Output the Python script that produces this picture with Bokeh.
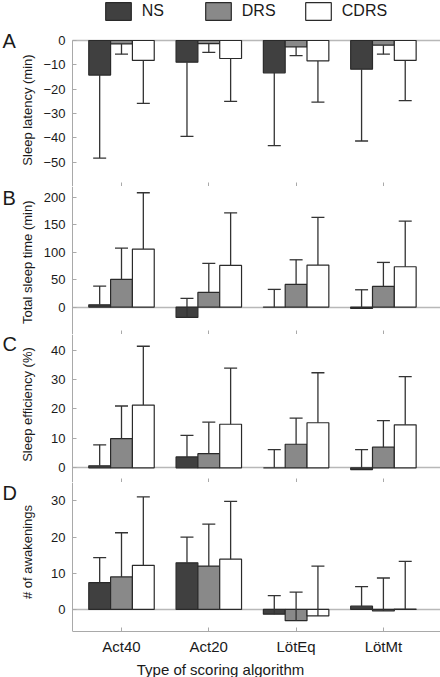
from bokeh.plotting import figure
from bokeh.models import (Range1d, FixedTicker, Whisker, TeeHead, ColumnDataSource,
                          Label, Legend, LegendItem, LinearAxis)
from bokeh.layouts import column
from bokeh.embed import file_html
from bokeh.resources import INLINE
import numpy as np

# ---------------- data ----------------
categories = ["Act40", "Act20", "LötEq", "LötMt"]
series = ["NS", "DRS", "CDRS"]

# A: Sleep latency (min)  (error bars drawn downward)
lat_ns = [-14.2, -8.9, -13.3, -11.8]
lat_drs = [-1.4, -1.3, -2.6, -1.9]
lat_cdrs = [-8.2, -7.4, -8.4, -8.2]
lat_ns_sd = [34.1, 30.5, 29.9, 29.5]
lat_drs_sd = [4.2, 3.6, 3.6, 3.7]
lat_cdrs_sd = [17.6, 17.6, 16.9, 16.5]

# B: Total sleep time (min)
tst_ns = [4.2, -18.8, -0.3, -2.4]
tst_drs = [50.5, 26.8, 41.4, 37.7]
tst_cdrs = [105.8, 76.0, 76.6, 73.6]
tst_ns_sd = [34.1, 34.6, 32.6, 34.0]
tst_drs_sd = [57.2, 52.9, 44.9, 43.8]
tst_cdrs_sd = [102.8, 96.0, 87.1, 83.4]

# C: Sleep efficiency (%)
se_ns = [0.7, 3.7, 0.0, -0.6]
se_drs = [9.9, 4.8, 8.0, 7.0]
se_cdrs = [21.3, 14.8, 15.3, 14.6]
se_ns_sd = [7.1, 7.3, 6.2, 6.8]
se_drs_sd = [11.1, 10.7, 8.9, 9.0]
se_cdrs_sd = [20.0, 19.1, 17.0, 16.4]

# D: # of awakenings
aw_ns = [7.4, 12.9, -1.3, 0.9]
aw_drs = [9.0, 12.0, -3.1, -0.4]
aw_cdrs = [12.2, 13.9, -1.8, 0.1]
aw_ns_sd = [6.9, 7.1, 5.1, 5.4]
aw_drs_sd = [12.2, 11.6, 7.9, 9.1]
aw_cdrs_sd = [18.9, 16.0, 13.8, 13.2]

lat_ticks = [0, -10, -20, -30, -40, -50]
tst_ticks = [0, 50, 100, 150, 200]
se_ticks = [0, 10, 20, 30, 40]
aw_ticks = [0, 10, 20, 30]

# ---------------- style ----------------
FONT = "Liberation Sans"
FILLS = ["#404040", "#898989", "#ffffff"]
EDGE = "#2a2a2a"
ERR = "#333333"
AXIS = "#a9a9a9"
ZERO = "#b8b8b8"
TEXT = "#1a1a1a"
OFFSETS = [-0.25, 0.0, 0.25]
BAR_W = 0.25
AXIS_X = 0.439                 # where the value axis sits
X_RANGE = (-0.386, 4.654)
cat_pos = np.arange(1, len(categories) + 1)


def make_panel(means, sds, ylabel, yrange, ybounds, ticks, frame_h, down, letter,
               letter_y, title_y, show_x=False):
    p = figure(frame_width=440, frame_height=frame_h,
               x_range=Range1d(*X_RANGE), y_range=Range1d(*yrange),
               output_backend="svg", toolbar_location=None,
               min_border_left=0, min_border_right=0,
               min_border_top=0, min_border_bottom=0)
    p.outline_line_color = None
    p.grid.visible = False
    p.background_fill_color = "white"
    p.border_fill_color = "white"

    # zero reference line (an unlabeled axis fixed at y = 0)
    zero = LinearAxis(fixed_location=0, bounds=(AXIS_X, X_RANGE[1]),
                      ticker=FixedTicker(ticks=[]), axis_line_color=ZERO,
                      axis_line_width=1.6, major_tick_line_color=None,
                      minor_tick_line_color=None, level="underlay")
    p.add_layout(zero, "below")

    renderers = []
    for i in range(3):
        vals = np.array(means[i], dtype=float)
        sd = np.array(sds[i], dtype=float)
        if down:
            lo, hi = vals - sd, vals
        else:
            lo, hi = vals, vals + sd
        src = ColumnDataSource(dict(x=cat_pos + OFFSETS[i], top=vals, lo=lo, hi=hi))
        r = p.vbar(x="x", top="top", bottom=0, width=BAR_W, source=src,
                   fill_color=FILLS[i], line_color=EDGE, line_width=1.2)
        renderers.append(r)
        head = TeeHead(size=13, line_color=ERR, line_width=1.3)
        wk = Whisker(source=src, base="x", lower="lo", upper="hi", dimension="height",
                     line_color=ERR, line_width=1.3, level="annotation",
                     lower_head=head if down else None,
                     upper_head=None if down else head)
        p.add_layout(wk)

    # y axis (value axis, drawn at AXIS_X)
    ya = p.yaxis[0]
    ya.fixed_location = AXIS_X
    ya.bounds = ybounds
    ya.ticker = FixedTicker(ticks=ticks)
    ya.axis_line_color = AXIS
    ya.major_tick_line_color = AXIS
    ya.minor_tick_line_color = None
    ya.major_tick_in = 4
    ya.major_tick_out = 0
    ya.major_label_standoff = 7
    ya.major_label_text_font = FONT
    ya.major_label_text_font_size = "13px"
    ya.major_label_text_color = TEXT

    # y title as rotated text
    p.add_layout(Label(x=26.5, y=title_y, x_units="screen", y_units="screen",
                       text=ylabel, angle=np.pi / 2, text_font=FONT,
                       text_font_size="13px", text_color=TEXT,
                       text_align="center", text_baseline="middle"))

    # x axis
    xa = p.xaxis[0]
    xa.bounds = (AXIS_X, X_RANGE[1])
    xa.axis_line_color = AXIS
    xa.major_tick_in = 4
    xa.major_tick_out = 0
    xa.minor_tick_in = 4
    xa.minor_tick_out = 0
    if show_x:
        xa.ticker = FixedTicker(ticks=list(cat_pos))
        xa.major_label_overrides = {int(k): c for k, c in zip(cat_pos, categories)}
        xa.major_tick_line_color = AXIS
        xa.minor_tick_line_color = None
        xa.major_label_standoff = 6
        xa.major_label_text_font = FONT
        xa.major_label_text_font_size = "15px"
        xa.major_label_text_color = TEXT
        xa.axis_label = "Type of scoring algorithm"
        xa.axis_label_text_font = FONT
        xa.axis_label_text_font_size = "15px"
        xa.axis_label_text_font_style = "normal"
        xa.axis_label_text_color = TEXT
        xa.axis_label_standoff = 3
    else:
        # unlabeled category ticks (minor ticks only)
        xa.ticker = FixedTicker(ticks=[], minor_ticks=list(cat_pos))
        xa.minor_tick_line_color = AXIS
        xa.major_tick_line_color = None
        xa.major_label_standoff = 0

    p.add_layout(Label(x=2, y=letter_y, x_units="screen", y_units="screen",
                       text=letter, text_font=FONT, text_font_size="20px",
                       text_color=TEXT, text_baseline="top", text_align="left"))
    return p, renderers


pA, rA = make_panel([lat_ns, lat_drs, lat_cdrs], [lat_ns_sd, lat_drs_sd, lat_cdrs_sd],
                    "Sleep latency (min)", (-60, 16.44), (-60, 0), lat_ticks, 186, True,
                    "A", 156.5, 76.5)
pB, _ = make_panel([tst_ns, tst_drs, tst_cdrs], [tst_ns_sd, tst_drs_sd, tst_cdrs_sd],
                   "Total sleep time (min)", (-50, 220), "auto", tst_ticks, 148, False,
                   "B", 147.5, 72.3)
pC, _ = make_panel([se_ns, se_drs, se_cdrs], [se_ns_sd, se_drs_sd, se_cdrs_sd],
                   "Sleep efficiency (%)", (-5, 45.3), "auto", se_ticks, 148, False,
                   "C", 149.5, 78)
pD, _ = make_panel([aw_ns, aw_drs, aw_cdrs], [aw_ns_sd, aw_drs_sd, aw_cdrs_sd],
                   "# of awakenings", (-6.1, 35.1), "auto", aw_ticks, 149, False,
                   "D", 149.5, 79.5, show_x=True)

# legend: one small legend per series, placed above panel A's value area
for i, name in enumerate(series):
    lg = Legend(items=[LegendItem(label=name, renderers=[rA[i]])],
                location=(101.8 + 100 * i, 164),
                glyph_width=32, glyph_height=22, label_height=22,
                label_standoff=8, padding=0, margin=0,
                border_line_color=None, background_fill_alpha=0,
                label_text_font=FONT, label_text_font_size="16px",
                label_text_color=TEXT)
    pA.add_layout(lg)

layout = column(pA, pB, pC, pD, spacing=0)
open("out.html", "w").write(file_html(layout, INLINE))
